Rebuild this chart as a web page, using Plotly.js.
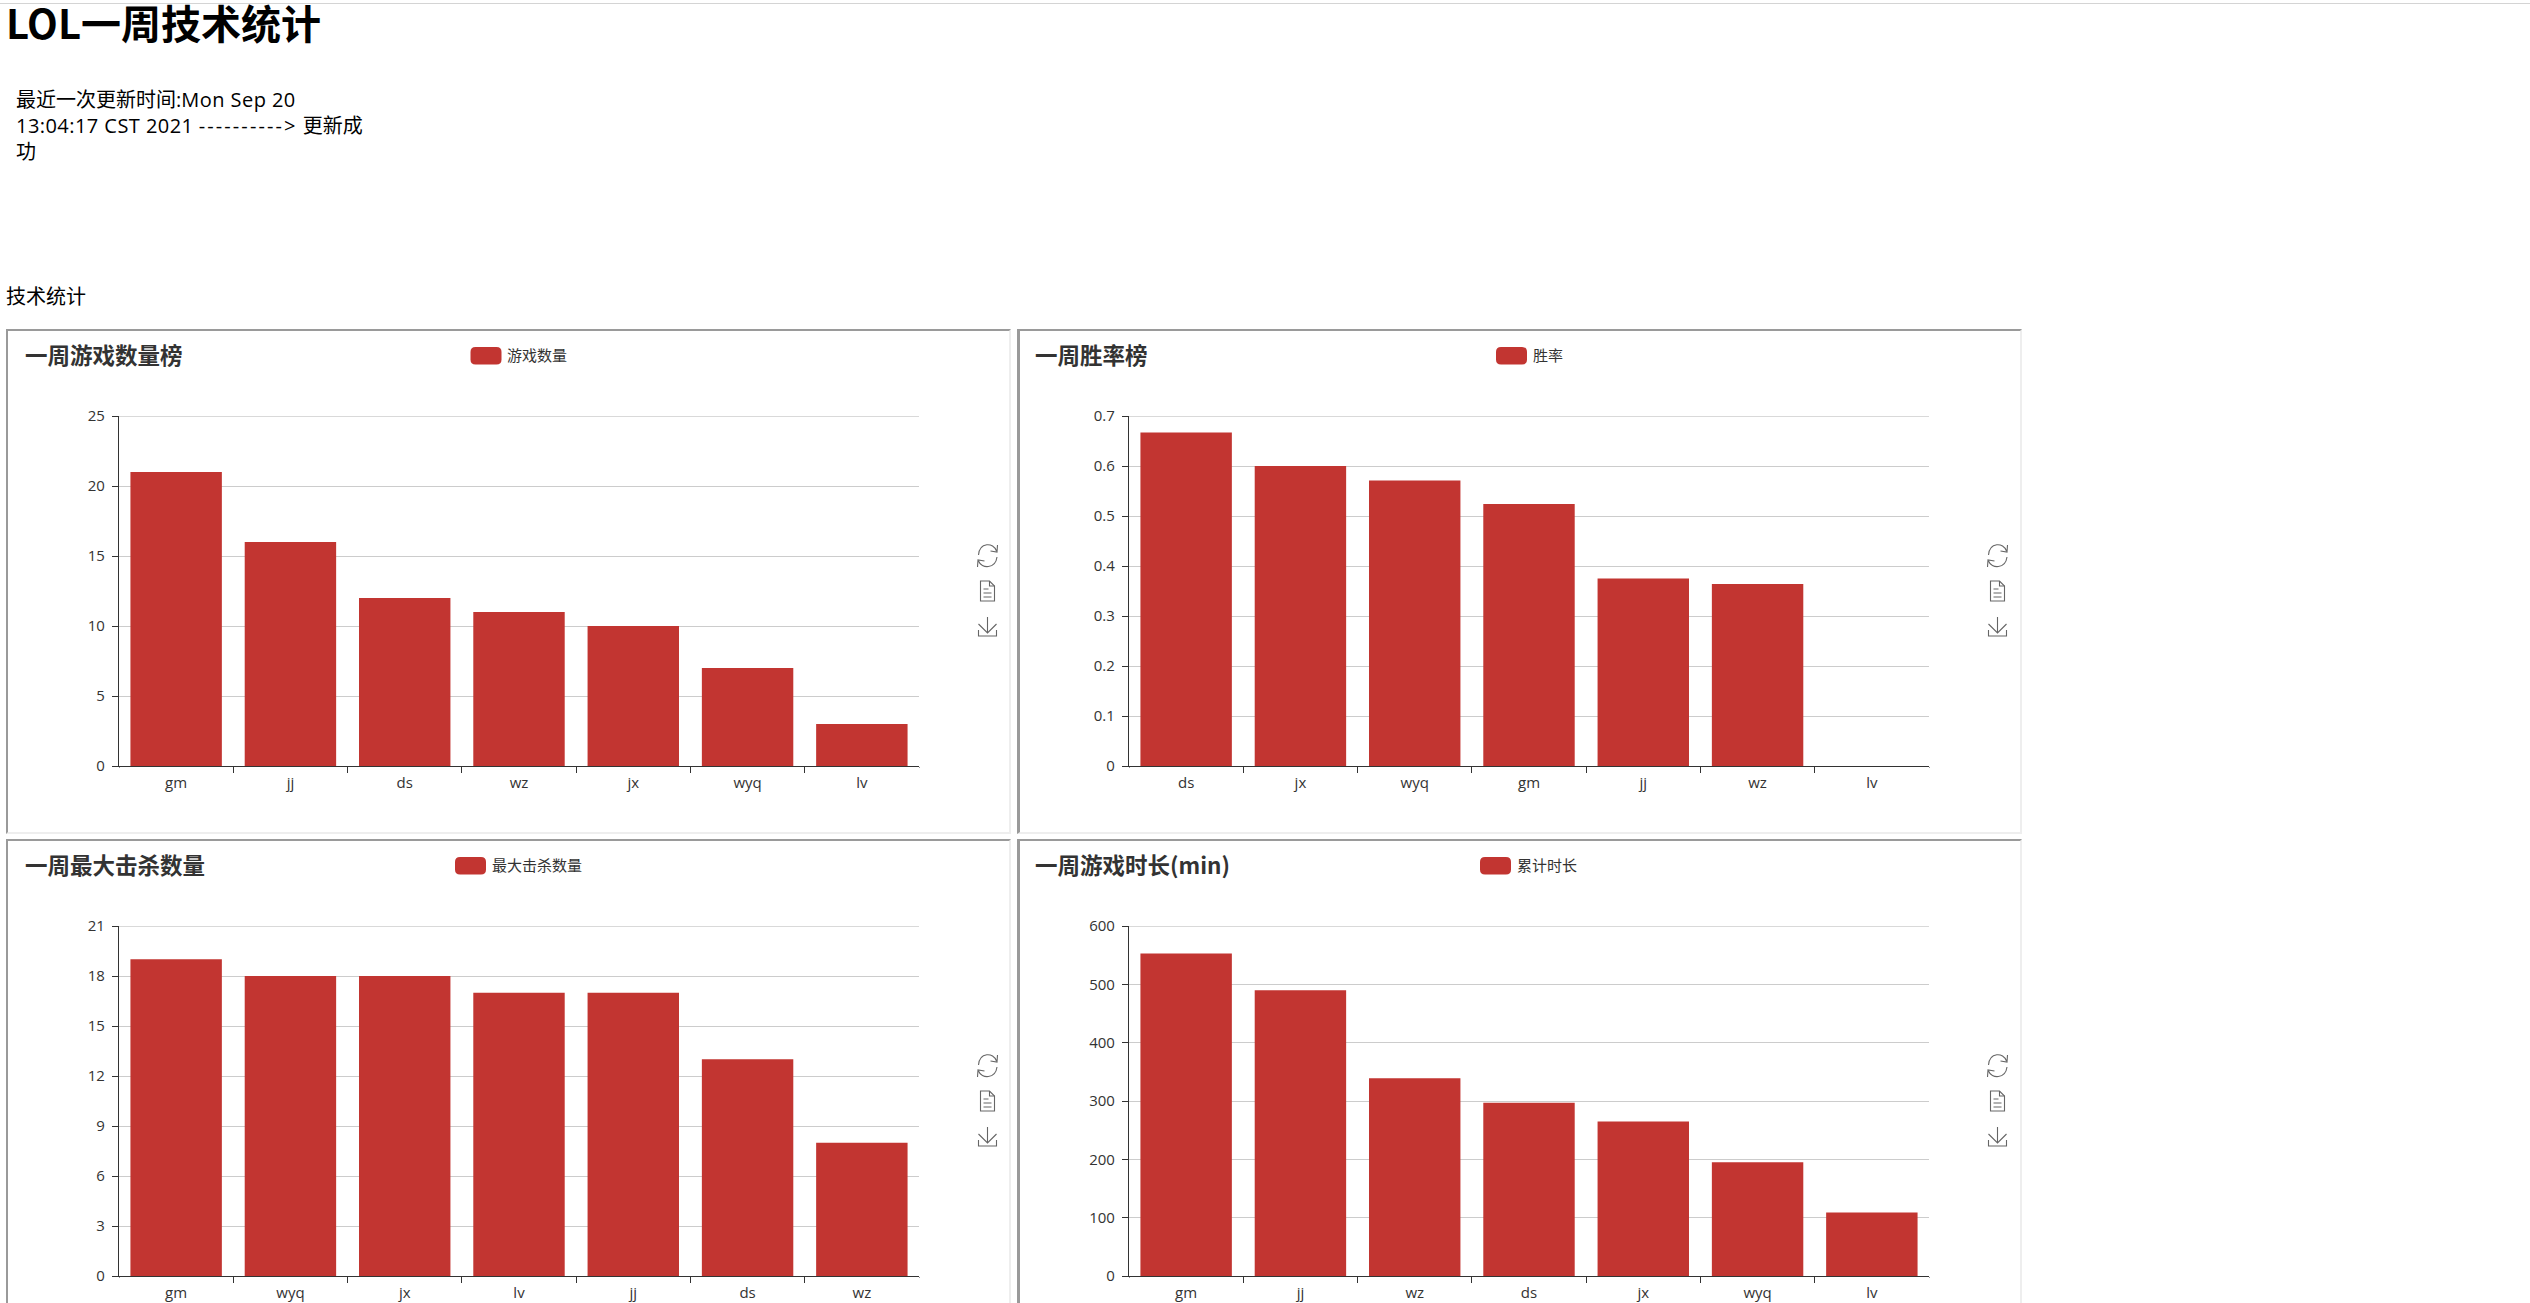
<!DOCTYPE html>
<html lang="zh">
<head>
<meta charset="utf-8">
<title>LOL一周技术统计</title>
<script src="https://cdn.plot.ly/plotly-3.0.1.min.js"></script>
<style>
@font-face{font-family:"HeadCJK";src:local("Noto Sans CJK SC Bold"),local("NotoSansCJKsc-Bold");font-weight:700;ascent-override:90%;descent-override:20%;line-gap-override:0%}
html,body{margin:0;padding:0;width:2530px;height:1303px;overflow:hidden;background:#fff;color:#000;font-family:"Open Sans","Noto Sans CJK SC",sans-serif}
#topline{position:absolute;left:0;top:3px;width:2530px;height:1px;background:#d4d4d4}
h1{position:absolute;left:6px;top:3px;margin:0;font-size:40px;line-height:44px;font-weight:700;font-family:"HeadCJK","Noto Sans CJK SC",sans-serif;white-space:nowrap}
#status{position:absolute;left:16px;top:87px;width:400px;font-size:20px;line-height:26px;white-space:nowrap}
#status .wide{letter-spacing:0.45px}
#status .dash{letter-spacing:2.1px}
#section{position:absolute;left:6px;top:283px;font-size:20px;line-height:28px}
.panel{position:absolute;height:501px;box-sizing:content-box;border-style:solid;border-color:#9a9a9a #eeeeee #eeeeee #9a9a9a;overflow:hidden}
.lp{left:6px;width:1001px;border-width:2px}
.rp{left:1017px;width:1000px;border-width:2px 2px 2px 3px}
.chart{position:absolute;width:1000px;height:500px;top:-1px}
.lp .chart{left:11px}
.rp .chart{left:9px}
</style>
</head>
<body>
<div id="topline"></div>
<h1>LOL一周技术统计</h1>
<div id="status">最近一次更新时间:<span class="wide">Mon Sep 20</span><br><span class="wide">13:04:17 CST 2021</span> <span class="dash">----------&gt;</span> 更新成<br>功</div>
<div id="section">技术统计</div>
<div class="panel lp" style="top:329px"><div class="chart" id="c1"></div></div>
<div class="panel rp" style="top:329px"><div class="chart" id="c2"></div></div>
<div class="panel lp" style="top:839px"><div class="chart" id="c3"></div></div>
<div class="panel rp" style="top:839px"><div class="chart" id="c4"></div></div>
<script>
// ---- chart data ----
const gamesNames  = ['gm','jj','ds','wz','jx','wyq','lv'];
const gamesValues = [21,16,12,11,10,7,3];
const winNames    = ['ds','jx','wyq','gm','jj','wz','lv'];
const winValues   = [0.667,0.6,0.571,0.524,0.375,0.364,0];
const killNames   = ['gm','wyq','jx','lv','jj','ds','wz'];
const killValues  = [19,18,18,17,17,13,8];
const timeNames   = ['gm','jj','wz','ds','jx','wyq','lv'];
const timeValues  = [553,490,339,297,265,195,109];

const RED='#c23531', INK='#333333', GRID='#cccccc', ICON='#666666';
const FONT='"Open Sans","Noto Sans CJK SC",sans-serif';
const W=1000,H=500,M={l:100,r:100,t:86,b:64};
const PW=W-M.l-M.r, PH=H-M.t-M.b;
const X=x=>(x-M.l)/PW, Y=y=>(PH+M.t-y)/PH;

// path from [command, x,y, x,y...] items in chart pixels to paper units
function path(items){
  return items.map(it=>{
    let s=it[0];
    for(let i=1;i<it.length;i+=2){s+=(i>1?' ':'')+X(it[i])+','+Y(it[i+1]);}
    return s;
  }).join(' ');
}
function shape(items,style){
  return Object.assign({type:'path',xref:'paper',yref:'paper',layer:'above',path:path(items)},style);
}
function swatch(x,y,w,h,r){
  return shape([['M',x+r,y],['L',x+w-r,y],['Q',x+w,y,x+w,y+r],['L',x+w,y+h-r],['Q',x+w,y+h,x+w-r,y+h],
    ['L',x+r,y+h],['Q',x,y+h,x,y+h-r],['L',x,y+r],['Q',x,y,x+r,y],['Z']],
    {fillcolor:RED,line:{width:0}});
}
function toolbox(cx){
  const st={fillcolor:'rgba(0,0,0,0)',line:{color:ICON,width:1.1}};
  const t=226, m=261, b=297; // icon centre heights
  return [
    // restore
    shape([['M',cx-9,t-1],['C',cx-8,t-14,cx+6,t-14,cx+9,t-5],['M',cx+10,t-11],['L',cx+9.5,t-4],['L',cx+3,t-5]],st),
    shape([['M',cx+9.5,t+1],['C',cx+8,t+13,cx-6,t+13,cx-9,t+5],['M',cx-10,t+11],['L',cx-9.5,t+4],['L',cx-3,t+5]],st),
    // data view
    shape([['M',cx-7,m-10],['L',cx+2,m-10],['L',cx+7,m-5],['L',cx+7,m+10],['L',cx-7,m+10],['Z']],st),
    shape([['M',cx+2,m-10],['L',cx+2,m-5],['L',cx+7,m-5]],st),
    shape([['M',cx-4,m-2],['L',cx+1,m-2],['M',cx-4,m+2],['L',cx+4,m+2],['M',cx-4,m+6],['L',cx+4,m+6]],st),
    // save
    shape([['M',cx,b-10],['L',cx,b+5],['M',cx-9,b-3],['L',cx,b+6],['L',cx+9,b-3]],st),
    shape([['M',cx-9,b+3],['L',cx-9,b+9],['L',cx+9,b+9],['L',cx+9,b+3]],st)
  ];
}
// the reference has no boundary ticks at the two ends of the category axis
function endTickCovers(){
  const base=H-M.b;
  return [M.l,W-M.r].map(px=>({type:'rect',xref:'paper',yref:'paper',layer:'above',
    x0:X(px-2),x1:X(px+2),y0:Y(base+1.5),y1:Y(base+8),fillcolor:'#ffffff',line:{width:0}}));
}
function draw(id,title,seriesName,names,values,yMax,dtick,legendX){
  const trace={type:'bar',x:names,y:values,name:seriesName,marker:{color:RED,line:{width:0}},showlegend:false};
  const topGrid={type:'line',xref:'paper',yref:'y',layer:'below',x0:0,x1:1,y0:yMax,y1:yMax,line:{color:GRID,width:1.25}};
  const layout={
    width:W,height:H,margin:M,paper_bgcolor:'rgba(0,0,0,0)',plot_bgcolor:'rgba(0,0,0,0)',
    font:{family:FONT,size:15,color:INK},bargap:0.2,showlegend:false,
    title:{text:title,x:6/W,xanchor:'left',y:1-26/H,yanchor:'middle',
      font:{family:'"Noto Sans CJK SC",sans-serif',size:22.5,color:INK,weight:700}},
    xaxis:{type:'category',range:[-0.5,6.5],tickson:'boundaries',ticks:'outside',ticklen:6,tickwidth:1,tickcolor:INK,
      showline:true,linecolor:INK,linewidth:1.25,showgrid:false,zeroline:false,fixedrange:true,
      tickfont:{family:FONT,size:15,color:INK},ticklabelstandoff:3},
    yaxis:{range:[0,yMax],dtick:dtick,tick0:0,ticks:'outside',ticklen:6,tickwidth:1,tickcolor:INK,
      showline:true,linecolor:INK,linewidth:1.25,gridcolor:GRID,gridwidth:1.25,zeroline:false,fixedrange:true,
      tickfont:{family:FONT,size:15,color:INK},ticklabelstandoff:4},
    shapes:[topGrid,swatch(legendX,17,31,17.5,5)].concat(toolbox(968.5),endTickCovers()),
    annotations:[{xref:'paper',yref:'paper',x:X(legendX+34.5),y:Y(24.5),xanchor:'left',yanchor:'middle',showarrow:false,
      text:seriesName,font:{family:'"Noto Sans CJK SC",sans-serif',size:15,color:INK}}]
  };
  Plotly.newPlot(id,[trace],layout,{displayModeBar:false,responsive:false});
}
draw('c1','一周游戏数量榜','游戏数量',gamesNames,gamesValues,25,5,451.5);
draw('c2','一周胜率榜','胜率',winNames,winValues,0.7,0.1,467);
draw('c3','一周最大击杀数量','最大击杀数量',killNames,killValues,21,3,436);
draw('c4','一周游戏时长(min)','累计时长',timeNames,timeValues,600,100,451);
</script>
</body>
</html>
